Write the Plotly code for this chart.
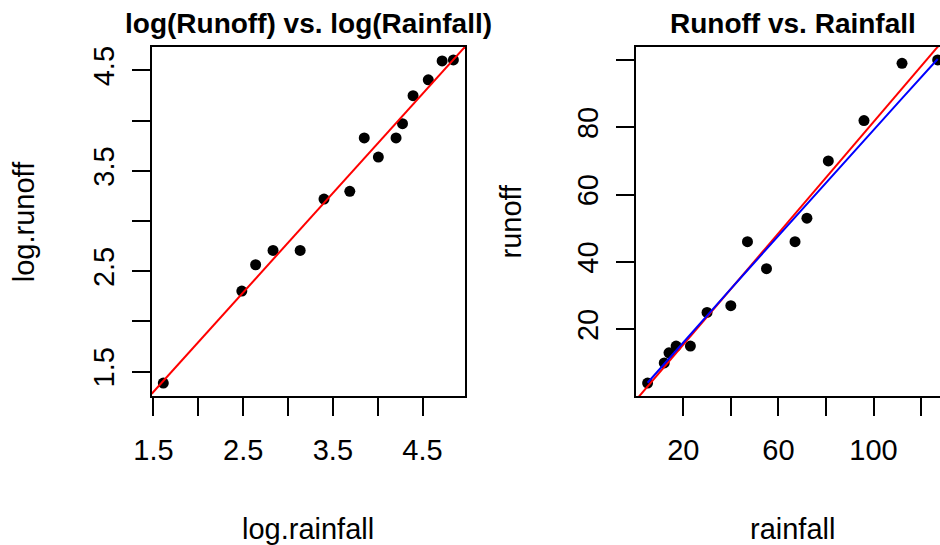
import numpy as np
import plotly.graph_objects as go

# Rainfall / runoff observations
rainfall = [5, 12, 14, 17, 23, 30, 40, 47, 55, 67, 72, 81, 96, 112, 127]
runoff = [4, 10, 13, 15, 15, 25, 27, 46, 38, 46, 53, 70, 82, 99, 100]

# Tick positions and labels (only some ticks carry a label)
log_ticks = [1.5, 2.0, 2.5, 3.0, 3.5, 4.0, 4.5]
log_tick_text = ["1.5", "", "2.5", "", "3.5", "", "4.5"]
rain_ticks = [20, 40, 60, 80, 100, 120]
rain_tick_text = ["20", "", "60", "", "100", ""]
run_ticks = [20, 40, 60, 80, 100]
run_tick_text = ["20", "40", "60", "80", ""]

W, H = 969, 545
FONT = "Liberation Sans, Arial, Helvetica, sans-serif"
TICK_SIZE = 29
LINE_W = 2

log_rain = np.log(np.array(rainfall, dtype=float))
log_run = np.log(np.array(runoff, dtype=float))
rain = np.array(rainfall, dtype=float)
run = np.array(runoff, dtype=float)

# Least-squares fits
b_log, a_log = np.polyfit(log_rain, log_run, 1)
b_lin, a_lin = np.polyfit(rain, run, 1)


def padded(v):
    lo, hi = float(np.min(v)), float(np.max(v))
    d = 0.04 * (hi - lo)
    return [lo - d, hi + d]


xr1, yr1 = padded(log_rain), padded(log_run)
xr2, yr2 = padded(rain), padded(run)


def px_x(p):
    return p / W


def px_y(p):
    return 1 - p / H


box_top, box_bot = 47, 396
left_box = (151.7, 465.0)
right_box = (636.0, 949.3)

fig = go.Figure()

# Left panel: log-log scatter and fitted line
fig.add_trace(go.Scatter(x=log_rain, y=log_run, mode="markers",
                         marker=dict(color="black", size=11),
                         xaxis="x", yaxis="y", showlegend=False))
fig.add_trace(go.Scatter(x=xr1, y=[a_log + b_log * v for v in xr1], mode="lines",
                         line=dict(color="#FF0000", width=LINE_W),
                         xaxis="x", yaxis="y", showlegend=False))

# Right panel: raw scatter, linear fit and back-transformed log fit
order = np.argsort(rain)
fig.add_trace(go.Scatter(x=rain, y=run, mode="markers",
                         marker=dict(color="black", size=11),
                         xaxis="x2", yaxis="y2", showlegend=False))
fig.add_trace(go.Scatter(x=xr2, y=[a_lin + b_lin * v for v in xr2], mode="lines",
                         line=dict(color="#FF0000", width=LINE_W),
                         xaxis="x2", yaxis="y2", showlegend=False))
fig.add_trace(go.Scatter(x=rain[order], y=np.exp(a_log + b_log * log_rain[order]),
                         mode="lines", line=dict(color="#0000FF", width=LINE_W),
                         xaxis="x2", yaxis="y2", showlegend=False))

axis_common = dict(
    showgrid=False, zeroline=False, showline=True, mirror=True,
    linecolor="black", linewidth=LINE_W, automargin=False,
    ticks="outside", ticklen=18, tickwidth=LINE_W, tickcolor="black",
    tickfont=dict(family=FONT, size=TICK_SIZE, color="black"),
)
x_axis = dict(axis_common, ticklabelstandoff=9)
y_axis = dict(axis_common, ticklabelstandoff=6, tickangle=-90)

ydom = [px_y(box_bot), px_y(box_top)]
fig.update_layout(
    width=W, height=H,
    margin=dict(l=0, r=0, t=0, b=0, autoexpand=False),
    paper_bgcolor="white", plot_bgcolor="white",
    xaxis=dict(domain=[px_x(left_box[0]), px_x(left_box[1])], range=xr1,
               tickvals=log_ticks, ticktext=log_tick_text, anchor="y", **x_axis),
    yaxis=dict(domain=ydom, range=yr1, tickvals=log_ticks, ticktext=log_tick_text,
               anchor="x", **y_axis),
    xaxis2=dict(domain=[px_x(right_box[0]), px_x(right_box[1])], range=xr2,
                tickvals=rain_ticks, ticktext=rain_tick_text, anchor="y2", **x_axis),
    yaxis2=dict(domain=ydom, range=yr2, tickvals=run_ticks, ticktext=run_tick_text,
                anchor="x2", **y_axis),
)

left_c = (left_box[0] + left_box[1]) / 2
right_c = (right_box[0] + right_box[1]) / 2
mid_y = (box_top + box_bot) / 2

texts = [
    ("log(Runoff) vs. log(Rainfall)", left_c, 23, 0, True),
    ("Runoff vs. Rainfall", right_c, 23, 0, True),
    ("log.rainfall", left_c, 529, 0, False),
    ("rainfall", right_c, 529, 0, False),
    ("log.runoff", left_box[0] - 127, mid_y, -90, False),
    ("runoff", right_box[0] - 125, mid_y, -90, False),
]
for txt, x, y, ang, bold in texts:
    fig.add_annotation(
        text=f"<b>{txt}</b>" if bold else txt,
        x=px_x(x), y=px_y(y), xref="paper", yref="paper",
        xanchor="center", yanchor="middle", showarrow=False, textangle=ang,
        font=dict(family=FONT, size=28 if bold else TICK_SIZE, color="black"),
    )

fig.write_html(
    "out.html",
    post_script="document.documentElement.style.overflow='hidden';"
                "document.body.style.overflow='hidden';document.body.style.margin='0';",
)
